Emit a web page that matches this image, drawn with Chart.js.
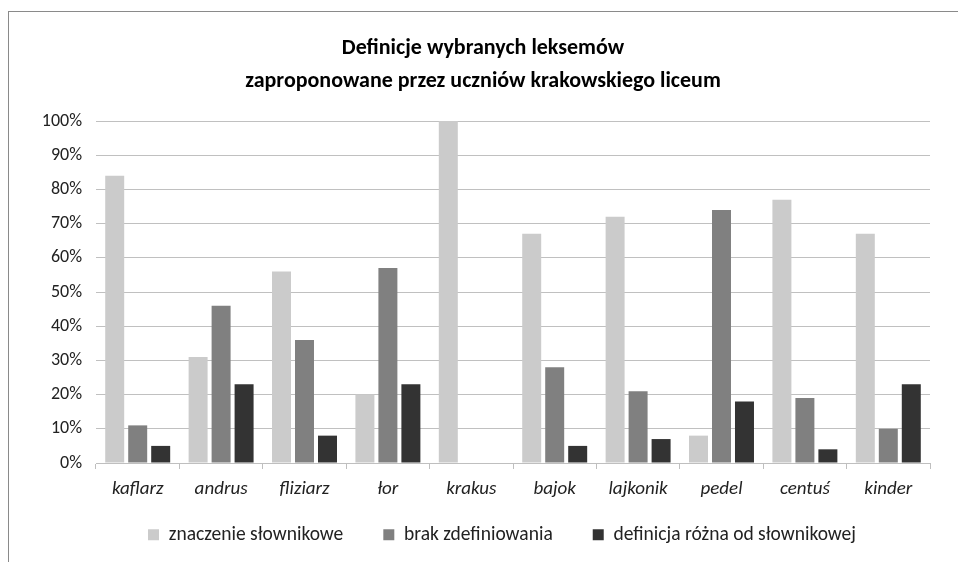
<!DOCTYPE html>
<html>
<head>
<meta charset="utf-8">
<script src="https://cdn.jsdelivr.net/npm/chart.js@4"></script>
<style>
  html, body { margin: 0; padding: 0; background: #fff; overflow: hidden; }
  #frame { position: absolute; left: 8px; top: 11px; width: 1000px; height: 600px; border: 1px solid #8a8a8a; }
  #wrap { position: absolute; left: 0; top: 0; width: 958px; height: 562px; }
</style>
</head>
<body>
<div id="frame"></div>
<div id="wrap"><canvas id="chart"></canvas></div>
<script>
const categories = ['kaflarz', 'andrus', 'fliziarz', 'łor', 'krakus', 'bajok', 'lajkonik', 'pedel', 'centuś', 'kinder']
const seriesNames = ['znaczenie słownikowe', 'brak zdefiniowania', 'definicja różna od słownikowej']
const slownikowe = [84, 31, 56, 20, 100, 67, 72, 8, 77, 67]
const brak = [11, 46, 36, 57, 0, 28, 21, 74, 19, 10]
const rozna = [5, 23, 8, 23, 0, 5, 7, 18, 4, 23]
const colors = ['#cbcbcb', '#808080', '#333333']

const fam = 'Carlito, Calibri, Lato, sans-serif'
Chart.defaults.font.family = fam
Chart.defaults.color = '#222'

const padLeft = 36

// legend sits a bit right of centre and closer to the axis labels
const legendNudge = {
  id: 'legendNudge',
  afterLayout (chart) {
    const lg = chart.legend
    lg.top -= 16
    lg.left += 19
    lg.right += 19
  }
}

const ctx = document.getElementById('chart').getContext('2d')

const chart = new Chart(ctx, {
  type: 'bar',
  data: {
    labels: categories,
    datasets: [slownikowe, brak, rozna].map((values, i) => ({
      label: seriesNames[i],
      data: values,
      backgroundColor: colors[i],
      borderWidth: 0,
      categoryPercentage: 0.827,
      barPercentage: 0.826
    }))
  },
  options: {
    responsive: true,
    maintainAspectRatio: false,
    animation: false,
    layout: { padding: { left: padLeft, right: 28, top: 32, bottom: 9 } },
    plugins: {
      title: {
        display: true,
        text: ['Definicje wybranych leksemów', 'zaproponowane przez uczniów krakowskiego liceum'],
        font: { size: 22, weight: 'bold', lineHeight: 1.5 },
        color: '#000',
        padding: { top: 0, bottom: 23 }
      },
      legend: {
        position: 'bottom',
        labels: {
          boxWidth: 11,
          boxHeight: 11,
          padding: 40,
          font: { size: 19.5 },
          color: '#222'
        }
      },
      tooltip: { enabled: false }
    },
    scales: {
      x: {
        afterFit: scale => { scale.height = 38 },
        grid: { display: true, drawOnChartArea: false, offset: true, color: '#bfbfbf', tickLength: 6 },
        border: { color: '#bfbfbf' },
        ticks: { font: { size: 19, style: 'italic' }, color: '#222', padding: 9 }
      },
      y: {
        min: 0,
        max: 100,
        afterFit: scale => { scale.width = 96 - padLeft },
        grid: { color: '#c0c0c0', drawTicks: false },
        border: { display: false },
        ticks: {
          stepSize: 10,
          padding: 14,
          font: { size: 18 },
          color: '#222',
          callback: v => v + '%'
        }
      }
    }
  },
  plugins: [legendNudge]
})

const legendFit = chart.legend.fit
chart.legend.fit = function () {
  legendFit.call(this)
  this.height = 52
}
chart.update()
</script>
</body>
</html>
